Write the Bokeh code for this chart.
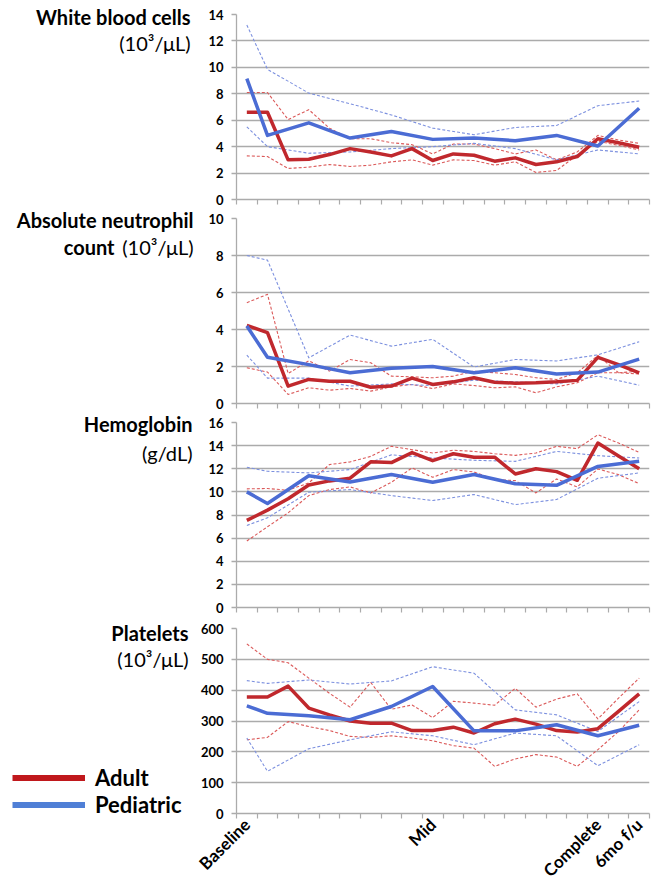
import math
from bokeh.plotting import figure
from bokeh.models import Range1d, FixedTicker, LinearAxis, Legend, LegendItem
from bokeh.layouts import row, column
from bokeh.embed import file_html
from bokeh.resources import INLINE
from bokeh.core.properties import value

# ---------------- data ----------------
time_index = list(range(20))                       # 20 study time points (adult)
ped_index = [0, 1, 3, 5, 7, 9, 11, 13, 15, 17, 19]  # pediatric time points
x_label_index = [0, 9, 17, 19]
x_labels = ["Baseline", "Mid", "Complete", "6mo f/u"]
series_names = ["Adult", "Pediatric"]

panel_titles = ["White blood cells", "Absolute neutrophil", "Hemoglobin", "Platelets"]
panel_line2_bold = ["", "count", "", ""]
panel_units = ["(10³/μL)", "(10³/μL)", "(g/dL)", "(10³/μL)"]
y_max = [14, 10, 16, 600]
y_step = [2, 2, 2, 100]

wbc_adult_mean = [6.6, 6.6, 3.0, 3.05, 3.4, 3.85, 3.6, 3.3, 3.85, 2.95, 3.45, 3.35, 2.9, 3.15, 2.65, 2.85, 3.25, 4.6, 4.3, 3.95]
wbc_adult_hi = [8.1, 8.1, 6.05, 6.8, 5.4, 4.6, 4.6, 4.3, 4.15, 3.45, 4.2, 4.2, 3.85, 3.45, 3.75, 3.0, 3.6, 4.85, 4.5, 4.25]
wbc_adult_lo = [3.3, 3.25, 2.35, 2.45, 2.65, 2.5, 2.6, 2.85, 3.0, 2.6, 3.0, 2.95, 2.6, 2.85, 2.05, 2.2, 3.35, 4.4, 4.1, 3.75]
wbc_ped_mean = [9.15, 4.85, 5.8, 4.65, 5.15, 4.55, 4.65, 4.45, 4.85, 4.05, 6.9]
wbc_ped_hi = [13.2, 9.85, 8.05, 7.25, 6.4, 5.4, 4.9, 5.45, 5.6, 7.1, 7.45]
wbc_ped_lo = [5.5, 4.0, 3.5, 3.6, 3.85, 4.0, 4.25, 3.85, 3.0, 3.75, 3.45]

anc_adult_mean = [4.22, 3.83, 0.94, 1.3, 1.2, 1.2, 0.88, 0.94, 1.37, 1.03, 1.17, 1.39, 1.15, 1.1, 1.12, 1.17, 1.25, 2.49, 2.1, 1.66]
anc_adult_hi = [5.45, 5.9, 1.62, 2.31, 1.75, 2.38, 2.2, 1.48, 1.44, 1.39, 1.48, 1.75, 1.66, 1.57, 1.39, 1.3, 1.66, 2.6, 1.66, 1.6]
anc_adult_lo = [1.93, 1.7, 0.49, 0.85, 0.72, 0.81, 0.67, 0.9, 1.03, 0.81, 1.06, 0.97, 0.85, 0.9, 0.58, 0.9, 1.12, 1.66, 1.66, 1.75]
anc_ped_mean = [4.19, 2.5, 2.1, 1.66, 1.9, 2.0, 1.66, 1.93, 1.6, 1.7, 2.4]
anc_ped_hi = [8.0, 7.75, 2.47, 3.7, 3.1, 3.47, 1.97, 2.38, 2.3, 2.63, 3.34]
anc_ped_lo = [2.62, 1.37, 1.37, 0.94, 1.06, 0.97, 1.26, 1.17, 1.06, 1.48, 0.99]

hgb_adult_mean = [7.53, 8.42, 9.4, 10.6, 10.95, 11.18, 12.6, 12.53, 13.4, 12.7, 13.3, 13.0, 13.0, 11.55, 12.0, 11.75, 11.0, 14.22, 13.1, 12.0]
hgb_adult_hi = [10.26, 10.29, 10.14, 10.78, 12.36, 12.59, 13.07, 13.94, 13.65, 13.36, 13.6, 13.5, 13.3, 13.16, 13.36, 13.94, 13.74, 14.94, 14.22, 13.42]
hgb_adult_lo = [5.75, 6.98, 8.19, 9.68, 10.2, 10.43, 9.91, 10.83, 12.07, 11.26, 11.93, 11.72, 11.06, 10.98, 9.91, 11.12, 10.43, 11.98, 11.49, 10.72]
hgb_ped_mean = [10.0, 9.0, 11.4, 10.86, 11.5, 10.83, 11.5, 10.7, 10.57, 12.2, 12.64]
hgb_ped_hi = [12.13, 11.78, 11.64, 11.93, 13.2, 12.93, 12.73, 12.64, 13.5, 13.13, 12.93]
hgb_ped_lo = [7.1, 7.76, 9.97, 10.2, 9.68, 9.25, 9.77, 8.9, 9.34, 11.18, 11.64]

plt_adult_mean = [378, 378, 413, 342, 320, 300, 293, 293, 269, 269, 280, 261, 291, 306, 290, 269, 264, 275, 331, 388]
plt_adult_hi = [550, 500, 489, 439, 390, 345, 425, 338, 352, 311, 364, 358, 351, 406, 345, 371, 388, 307, 374, 439]
plt_adult_lo = [239, 247, 298, 282, 269, 250, 247, 252, 245, 236, 220, 212, 153, 177, 191, 183, 153, 207, 266, 336]
plt_ped_mean = [349, 325, 317, 304, 347, 412, 268, 268, 288, 252, 286]
plt_ped_hi = [431, 422, 433, 420, 430, 476, 455, 336, 320, 266, 363]
plt_ped_lo = [245, 137, 210, 239, 265, 252, 223, 261, 252, 155, 223]

# ---------------- style ----------------
FONT = "Lato"
GRID = "#ABABAB"
RED = "#C0282D"
BLUE = "#4B6CD4"
RED_D = "#DB5A5A"
BLUE_D = "#7C90DF"
LEG_RED = "#C0181C"
LEG_BLUE = "#4F7FD6"

TOTAL_H = 871
LEFT_W = 194

x_adult = [t + 0.5 for t in time_index]
x_ped = [t + 0.5 for t in ped_index]


def make_panel(k, a_mean, a_hi, a_lo, p_mean, p_hi, p_lo, top, bottom, last=False):
    p = figure(frame_width=413, frame_height=185,
               x_range=Range1d(0, 20), y_range=Range1d(0, y_max[k]),
               x_axis_type=None, output_backend="svg", toolbar_location=None,
               min_border_left=42, min_border_right=2,
               min_border_top=top, min_border_bottom=bottom)
    p.outline_line_color = None
    p.background_fill_color = "white"
    p.border_fill_color = "white"

    yt = FixedTicker(ticks=list(range(0, y_max[k] + 1, y_step[k])))
    ya = p.yaxis[0]
    ya.ticker = yt
    ya.axis_line_color = GRID
    ya.axis_line_width = 1.3
    ya.major_tick_line_color = GRID
    ya.major_tick_line_width = 1.3
    ya.major_tick_in = 0
    ya.major_tick_out = 5
    ya.minor_tick_line_color = None
    ya.major_label_text_font = FONT
    ya.major_label_text_font_style = "bold"
    ya.major_label_text_font_size = "13px"
    ya.major_label_text_color = "black"
    ya.major_label_standoff = 8
    p.ygrid.ticker = yt
    p.ygrid.grid_line_color = GRID
    p.ygrid.grid_line_width = 1.3

    major = [i + 0.5 for i in x_label_index] if last else []
    xt = FixedTicker(ticks=major, minor_ticks=[float(t) for t in range(21)])
    xa = LinearAxis(ticker=xt)
    xa.axis_line_color = GRID
    xa.axis_line_width = 1.3
    xa.major_tick_line_color = None
    xa.major_tick_in = 0
    xa.major_tick_out = 0
    xa.minor_tick_line_color = GRID
    xa.minor_tick_line_width = 1.2
    xa.minor_tick_in = 0
    xa.minor_tick_out = 5
    if last:
        xa.major_label_overrides = {i + 0.5: lab for i, lab in zip(x_label_index, x_labels)}
        xa.major_label_orientation = math.pi / 4
        xa.major_label_text_font = FONT
        xa.major_label_text_font_style = "bold"
        xa.major_label_text_font_size = "17px"
        xa.major_label_text_color = "black"
        xa.major_label_standoff = 3
    else:
        xa.major_label_text_font_size = "0px"
        xa.major_label_standoff = 0
    p.add_layout(xa, "below")

    dash_kw = dict(line_width=1.1, line_dash="3 2", line_join="round")
    p.line(x_adult, a_hi, line_color=RED_D, **dash_kw)
    p.line(x_adult, a_lo, line_color=RED_D, **dash_kw)
    p.line(x_ped, p_hi, line_color=BLUE_D, **dash_kw)
    p.line(x_ped, p_lo, line_color=BLUE_D, **dash_kw)
    p.line(x_adult, a_mean, line_color=RED, line_width=3.5, line_join="round")
    p.line(x_ped, p_mean, line_color=BLUE, line_width=3.5, line_join="round")
    return p


p1 = make_panel(0, wbc_adult_mean, wbc_adult_hi, wbc_adult_lo, wbc_ped_mean, wbc_ped_hi, wbc_ped_lo, 14, 11)
p2 = make_panel(1, anc_adult_mean, anc_adult_hi, anc_adult_lo, anc_ped_mean, anc_ped_hi, anc_ped_lo, 8, 11)
p3 = make_panel(2, hgb_adult_mean, hgb_adult_hi, hgb_adult_lo, hgb_ped_mean, hgb_ped_hi, hgb_ped_lo, 8, 13)
p4 = make_panel(3, plt_adult_mean, plt_adult_hi, plt_adult_lo, plt_ped_mean, plt_ped_hi, plt_ped_lo, 8, 58, last=True)

# ---------------- left label column ----------------
lf = figure(width=LEFT_W, height=TOTAL_H, x_range=Range1d(0, LEFT_W), y_range=Range1d(TOTAL_H, 0),
            x_axis_type=None, y_axis_type=None, output_backend="svg", toolbar_location=None,
            min_border=0)
lf.outline_line_color = None
lf.grid.visible = False

txt = dict(text_font=value(FONT), text_font_size="20px", text_align="right",
           text_baseline="middle", text_color="black")
# titles (bold)
lf.text(x=[190, 193, 192, 188], y=[16, 219, 423, 632], text=panel_titles,
        text_font_style="bold", **txt)
lf.text(x=[114], y=[246], text=[panel_line2_bold[1]], text_font_style="bold", **txt)
# units (regular)
lf.text(x=[190, 193, 192, 188], y=[42, 246, 452, 658], text=panel_units,
        text_font_style="normal", **txt)

# legend (off-screen sample lines carry the legend glyph styling)
r_a = lf.line(x=[-50, -40], y=[-50, -50], line_color=LEG_RED, line_width=6)
r_p = lf.line(x=[-50, -40], y=[-60, -60], line_color=LEG_BLUE, line_width=6)
legend = Legend(items=[LegendItem(label=series_names[0], renderers=[r_a]),
                       LegendItem(label=series_names[1], renderers=[r_p])],
                location=(12, 53), glyph_width=73, glyph_height=25, label_height=25,
                label_standoff=10, spacing=0, padding=0, margin=0,
                border_line_color=None, background_fill_alpha=0,
                label_text_font=FONT, label_text_font_style="bold",
                label_text_font_size="22px", label_text_color="black")
lf.add_layout(legend)

layout = row(lf, column(p1, p2, p3, p4))

with open("out.html", "w") as f:
    f.write(file_html(layout, INLINE))
